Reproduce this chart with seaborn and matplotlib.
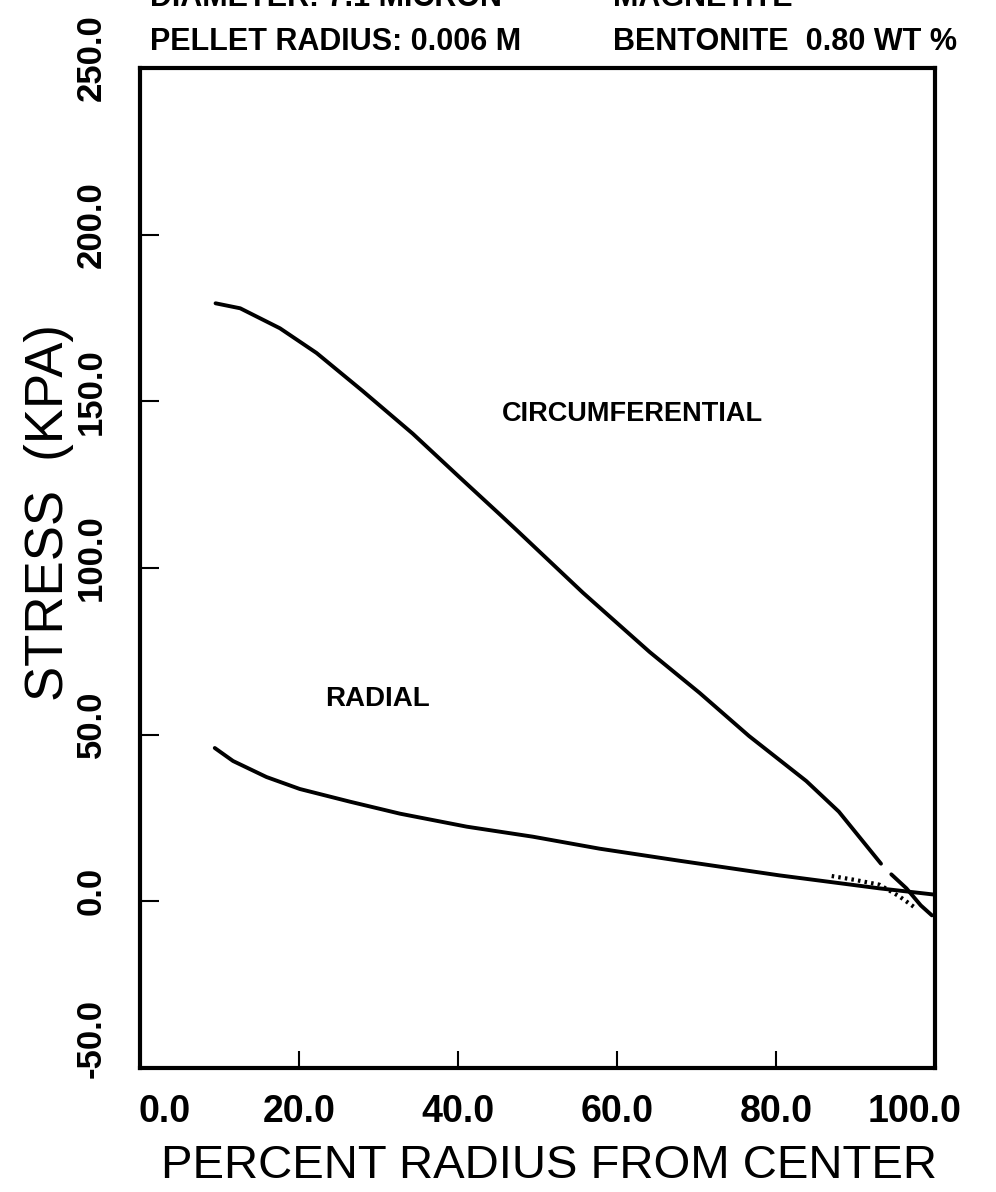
import matplotlib
matplotlib.use("Agg")
import matplotlib.pyplot as plt
import matplotlib.transforms as mtransforms
import numpy as np
import pandas as pd
import seaborn as sns

# Stress distribution inside a magnetite pellet
circ_pct = [9.5, 12.6, 17.6, 22.2, 28.0, 34.3, 40.2, 45.2, 47.4, 55.7,
            64.1, 70.4, 76.6, 83.8, 87.9, 93.2]
circ_kpa = [179.4, 177.9, 171.9, 164.5, 153.1, 140.3, 127.2, 116.2, 111.3, 92.6,
            74.8, 62.5, 49.6, 36.1, 26.9, 11.3]
circ_tail_pct = [94.5, 96.4, 98.2, 99.6]
circ_tail_kpa = [8.1, 3.9, -1.2, -4.2]

radial_pct = [9.4, 11.7, 15.9, 20.1, 26.4, 32.7, 41.1, 49.4, 57.8, 67.8,
              80.4, 93.0, 100.0]
radial_kpa = [46.0, 42.1, 37.3, 33.7, 29.9, 26.3, 22.4, 19.4, 15.8, 12.2,
              7.8, 3.9, 2.0]

surface_pct = [87.0, 90.0, 93.0, 95.5, 97.6]
surface_kpa = [7.6, 6.4, 5.0, 1.5, -2.1]

x_ticks = [0, 20, 40, 60, 80, 100]
x_tick_labels = ["0.0", "20.0", "40.0", "60.0", "80.0", "100.0"]
y_ticks = [-50, 0, 50, 100, 150, 200, 250]
y_tick_labels = ["-50.0", "0.0", "50.0", "100.0", "150.0", "200.0", "250.0"]

header_lines = [
    ("DIAMETER: 7.1 MICRON", "MAGNETITE"),
    ("PELLET RADIUS: 0.006 M", "BENTONITE  0.80 WT %"),
]

sns.set_theme(style="white")
plt.rcParams["font.family"] = ["Liberation Sans", "DejaVu Sans"]

fig = plt.figure(figsize=(9.96, 11.92), dpi=100)
ax = fig.add_axes([0.1406, 0.104, 0.7982, 0.839])

def draw(px, kpa, **kw):
    df = pd.DataFrame({"pct": px, "kpa": kpa})
    sns.lineplot(data=df, x="pct", y="kpa", ax=ax, sort=False,
                 estimator=None, color="black", **kw)

draw(circ_pct, circ_kpa, linewidth=2.8)
draw(circ_tail_pct, circ_tail_kpa, linewidth=2.8)
draw(radial_pct, radial_kpa, linewidth=2.8)
draw(surface_pct, surface_kpa, linewidth=3.0, linestyle=(0, (0.6, 1.0)))

ax.set_xlim(0, 100)
ax.set_ylim(-50, 250)

ax.set_xticks(x_ticks)
ax.set_xticklabels(x_tick_labels, fontsize=27, fontweight="bold")
ax.set_yticks(y_ticks)
ax.set_yticklabels(y_tick_labels, fontsize=25, fontweight="bold",
                   rotation=90, va="center")

ax.tick_params(axis="x", bottom=True, direction="in", length=12, width=1.5,
               pad=19, colors="black")
ax.tick_params(axis="y", left=True, direction="in", length=14, width=1.5,
               pad=23, colors="black")

for spine in ax.spines.values():
    spine.set_visible(True)
    spine.set_color("black")
    spine.set_linewidth(3.0)

ax.set_xlabel("PERCENT RADIUS FROM CENTER", fontsize=34, labelpad=10,
              color="black", x=0.515)
ax.set_ylabel("STRESS  (KPA)", fontsize=38, labelpad=1, color="black",
              y=0.555)

# nudge end labels inward
xlab = ax.get_xticklabels()
xlab[0].set_transform(xlab[0].get_transform() +
                      mtransforms.ScaledTranslation(0.25, 0, fig.dpi_scale_trans))
xlab[-1].set_transform(xlab[-1].get_transform() +
                       mtransforms.ScaledTranslation(-0.2, 0, fig.dpi_scale_trans))
for lab in ax.get_yticklabels():
    dy = 0.3 if lab.get_text() == "-50.0" else 0.1
    lab.set_transform(lab.get_transform() +
                      mtransforms.ScaledTranslation(0, dy, fig.dpi_scale_trans))

ax.text(61.9, 146.3, "CIRCUMFERENTIAL", fontsize=19.5, fontweight="bold",
        ha="center", va="center", color="black")
ax.text(29.9, 60.6, "RADIAL", fontsize=20, fontweight="bold", ha="center",
        va="center", color="black")

for (left, right), ybase in zip(header_lines, [0.9948, 0.958]):
    fig.text(0.1506, ybase, left, fontsize=22, fontweight="bold",
             va="baseline", ha="left", color="black")
    fig.text(0.6155, ybase, right, fontsize=22, fontweight="bold",
             va="baseline", ha="left", color="black")

fig.savefig("out.png", dpi=100, facecolor="white")
